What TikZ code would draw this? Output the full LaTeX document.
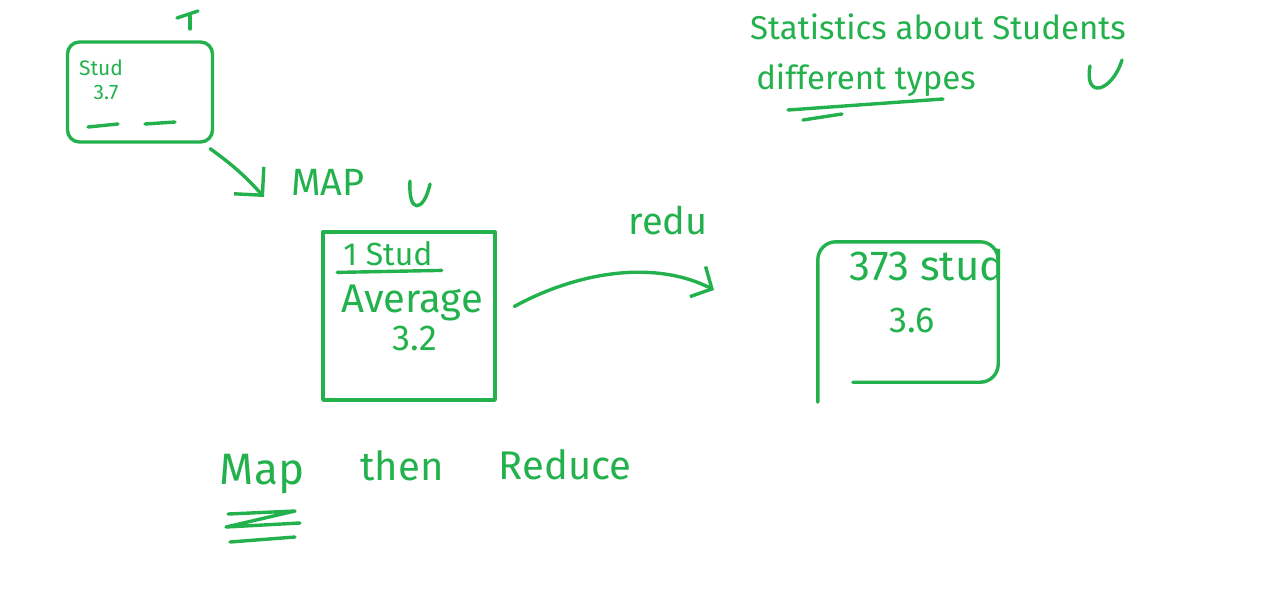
\documentclass[tikz,border=0pt]{standalone}
\usepackage{fontspec}
\setmainfont{Fira Sans}
\usepackage{tikz}
\usetikzlibrary{arrows.meta,calc,positioning}
\definecolor{inkCol}{HTML}{22B14C}
\tikzset{
  pen/.style={draw=inkCol, line width=3.4pt, line cap=round, line join=round},
  ink/.style={text=inkCol, inner sep=1pt, font=\fontsize{#1}{#1}\selectfont},
  sheet/.style n args={2}{pen, minimum width=#1, minimum height=#2, inner sep=0pt},
  flow/.style={pen, -{Straight Barb[length=16pt, width=34pt]}},
}

\begin{document}
\begin{tikzpicture}[x=1pt, y=-1pt]
  \useasboundingbox (0,0) rectangle (1268,590);
  % heading, top right
  \node[ink=33] (stat) at (938,27){Statistics about Students};
  \node[ink=33] (types) at (866,80){different types};
  \draw[pen] (788,110) -- (943,99);
  \draw[pen] (803,120) -- (842,114);
  \draw[pen] (1090,66) .. controls (1084,100) and (1112,92) .. (1122,60);
  % one record
  \node[sheet={145pt}{100pt}, rounded corners=12pt] (card) at (140,92){};
  \node[ink=21] (cardname) at (101,68){Stud};
  \node[ink=21] (cardval) at (106,92){3.7};
  \draw[pen] (88,127) -- (118,124);
  \draw[pen] (145,124) -- (175,122);
  \draw[pen] (177,18) -- (198,11);
  \draw[pen] (190,16) -- (190,29);
  \coordinate (mapTip) at (264,197);
  \draw[flow, -{Straight Barb[length=20pt, width=40pt]}] ([xshift=-4pt,yshift=-5pt]card.south east) to[bend left=6] (mapTip);
  \node[ink=38] (maplbl) at (328,182){MAP};
  \draw[pen] (410,181) .. controls (408,215) and (424,212) .. (430,184);
  % mapped value
  \node[sheet={172pt}{168pt}] (midbox) at (409,316){};
  \node[ink=32] (one) at (388,254){1 Stud};
  \draw[pen] ([xshift=-5pt,yshift=-5pt]one.south west) -- ([xshift=8pt,yshift=-3pt]one.south east);
  \node[ink=40] (avg) at (412,303){Average};
  \node[ink=36] (avgval) at (415,338){3.2};
  % reduce step
  \coordinate (redTip) at (714,290);
  \draw[flow, shorten <=20pt] (midbox.east) .. controls (585,268) and (660,262) .. (redTip);
  \node[ink=38] (redlbl) at (668,220){redu};
  \node[minimum width=180pt, minimum height=160pt] (outbox) at (908,322){};
  \draw[pen, rounded corners=18pt] (outbox.south west) -- (outbox.north west) -- (outbox.north east)
       -- ([yshift=20pt]outbox.south east) -- ([xshift=35pt,yshift=20pt]outbox.south west);
  \node[ink=42] (total) at (927,265){373 stud};
  \node[ink=36] (totval) at (912,320){3.6};
  % bottom line
  \node[ink=44] (mapword) at (262,474){Map};
  \node[ink=40] (thenword) at (402,466){then};
  \node[ink=40] (redword) at (565,465){Reduce};
  \draw[pen] (228,514) -- (295,511) -- (226,527) -- (300,523);
  \draw[pen] (230,542) -- (295,537);
\end{tikzpicture}
\end{document}
